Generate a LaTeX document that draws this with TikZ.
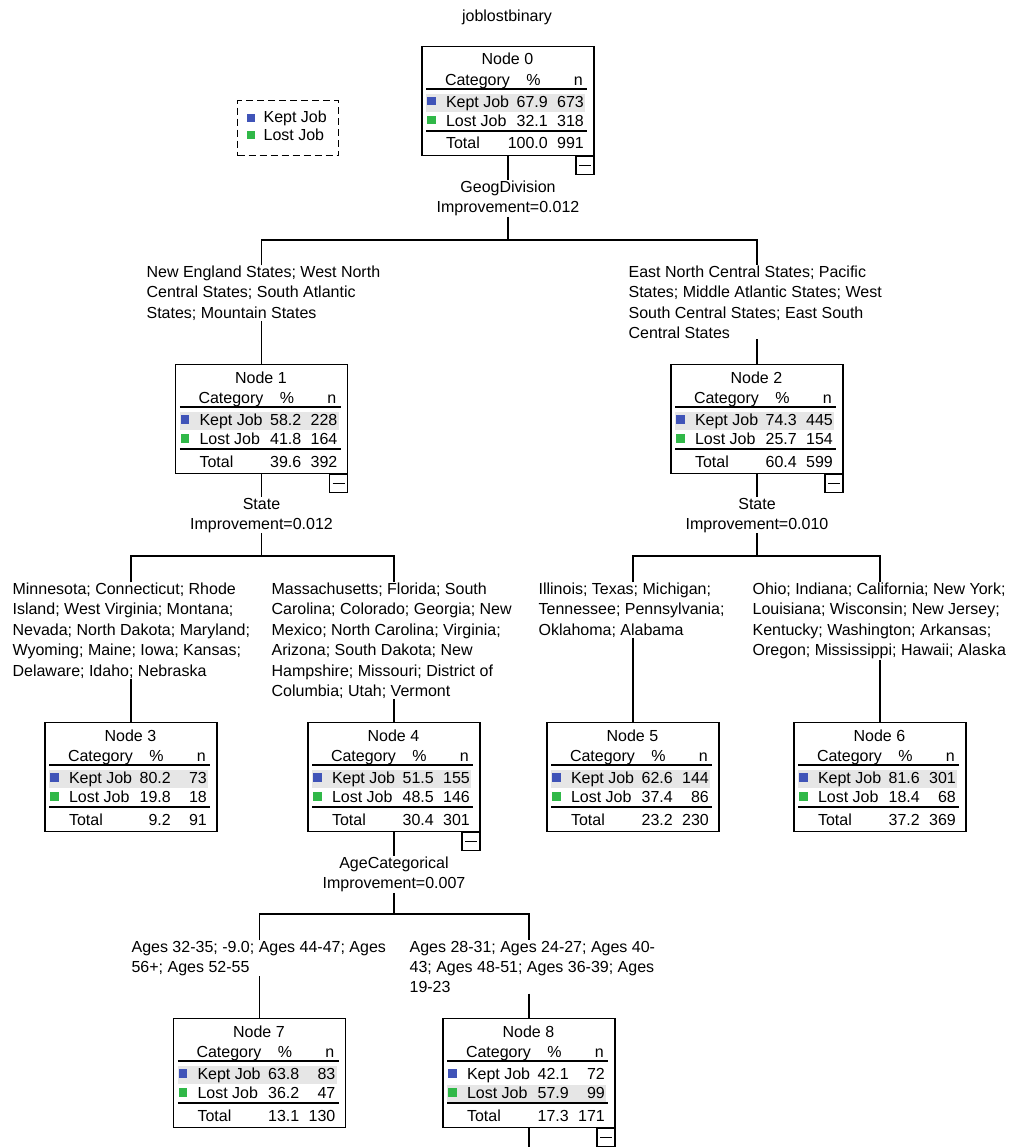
\documentclass[tikz,border=0pt]{standalone}
\usepackage{fontspec}
\setmainfont{Liberation Sans}
\usetikzlibrary{positioning}
\definecolor{keptblue}{RGB}{64,84,184}
\definecolor{lostgreen}{RGB}{48,184,72}
\definecolor{rowgray}{RGB}{230,230,230}
\tikzstyle{txt}=[inner sep=0pt, font=\fontsize{16}{20.4}\selectfont]
\tikzstyle{box}=[draw=black, minimum width=172pt, minimum height=109pt, inner sep=0pt, anchor=north]
\tikzstyle{minus}=[draw=black, minimum size=18pt, inner sep=0pt, anchor=north east]
\tikzstyle{lab}=[txt, align=left, anchor=north west]
\tikzstyle{split}=[txt, align=center, anchor=north]

\begin{document}
\begin{tikzpicture}[x=1pt, y=-1pt, line width=1.2pt]
        \useasboundingbox (0,0) rectangle (1011,1147);

        % Title
        \node[txt, anchor=base] (title) at (507,21.5) {joblostbinary};

        % Legend
        \node[draw, dash pattern=on 7pt off 4pt, minimum width=101pt, minimum height=55pt, anchor=north west] (legend) at (237,100) {};
        \fill[keptblue] (247,114) rectangle (255,122);
        \fill[lostgreen] (247,131) rectangle (255,139);
        \node[txt, anchor=base west] (leg_kept) at (263,123) {Kept Job};
        \node[txt, anchor=base west] (leg_lost) at (263,140.5) {Lost Job};

        % Tree nodes
        \foreach \nm/\px/\py/\kp/\kn/\lsp/\lsn/\tp/\tn/\hrow in {
            0/508/46/67.9/673/32.1/318/100.0/991/1,
            1/261.5/364/58.2/228/41.8/164/39.6/392/1,
            2/757/364/74.3/445/25.7/154/60.4/599/1,
            3/131/722/80.2/73/19.8/18/9.2/91/1,
            4/394/722/51.5/155/48.5/146/30.4/301/1,
            5/633/722/62.6/144/37.4/86/23.2/230/1,
            6/880/722/81.6/301/18.4/68/37.2/369/1,
            7/259.5/1018/63.8/83/36.2/47/13.1/130/1,
            8/529/1018/42.1/72/57.9/99/17.3/171/2}{
          \node[box] (n\nm) at (\px,\py) {};
          \begin{scope}[shift={(n\nm.north west)}]
            \pgfmathsetmacro\bandy{48+19*(\hrow-1)}
            \fill[rowgray] (5,\bandy) rectangle (164,\bandy+18);
            \fill[keptblue] (6,51) rectangle (14.5,59.5);
            \fill[lostgreen] (6,70) rectangle (14.5,78.5);
            \draw (5,43) -- (166,43);
            \draw (5,85) -- (166,85);
            \node[txt, anchor=base] (t\nm) at (86,19) {Node \nm};
            \node[txt, anchor=base west] (hc\nm) at (23,39.5) {Category};
            \node[txt, anchor=base] (hp\nm) at (112,39.5) {\%};
            \node[txt, anchor=base east] (hn\nm) at (162,39.5) {n};
            \node[txt, anchor=base west] (kc\nm) at (24,61.5) {Kept Job};
            \node[txt, anchor=base east] (kp\nm) at (127,61.5) {\kp};
            \node[txt, anchor=base east] (kn\nm) at (163,61.5) {\kn};
            \node[txt, anchor=base west] (lc\nm) at (24,80.5) {Lost Job};
            \node[txt, anchor=base east] (lp\nm) at (127,80.5) {\lsp};
            \node[txt, anchor=base east] (ln\nm) at (163,80.5) {\lsn};
            \node[txt, anchor=base west] (tc\nm) at (24,103) {Total};
            \node[txt, anchor=base east] (tp\nm) at (127,103) {\tp};
            \node[txt, anchor=base east] (tn\nm) at (163,103) {\tn};
          \end{scope}
        }

        % Collapse boxes
        \foreach \nm in {0,1,2,4,8}
          \node[minus] (m\nm) at (n\nm.south east) {\rule{12pt}{1.2pt}};

        % Split variables
        \node[split] (s0) at (508,180.3) {GeogDivision\\Improvement=0.012};
        \node[split] (s1) at (261.5,497.3) {State\\Improvement=0.012};
        \node[split] (s2) at (757,497.3) {State\\Improvement=0.010};
        \node[split] (s4) at (394,856.3) {AgeCategorical\\Improvement=0.007};

        \coordinate (b0) at (508,240);
        \coordinate (b1) at (261.5,556);
        \coordinate (b2) at (757,556);
        \coordinate (b4) at (394,914);

        % Branch labels
        \node[lab] (l1) at (146,265.3) {New England States; West North\\Central States; South Atlantic\\States; Mountain States};
        \node[lab] (l2) at (628,265.3) {East North Central States; Pacific\\States; Middle Atlantic States; West\\South Central States; East South\\Central States};
        \node[lab] (l3) at (12,582.3) {Minnesota; Connecticut; Rhode\\Island; West Virginia; Montana;\\Nevada; North Dakota; Maryland;\\Wyoming; Maine; Iowa; Kansas;\\Delaware; Idaho; Nebraska};
        \node[lab] (l4) at (271,582.3) {Massachusetts; Florida; South\\Carolina; Colorado; Georgia; New\\Mexico; North Carolina; Virginia;\\Arizona; South Dakota; New\\Hampshire; Missouri; District of\\Columbia; Utah; Vermont};
        \node[lab] (l5) at (538,582.3) {Illinois; Texas; Michigan;\\Tennessee; Pennsylvania;\\Oklahoma; Alabama};
        \node[lab] (l6) at (752,582.3) {Ohio; Indiana; California; New York;\\Louisiana; Wisconsin; New Jersey;\\Kentucky; Washington; Arkansas;\\Oregon; Mississippi; Hawaii; Alaska};
        \node[lab] (l7) at (131,940.3) {Ages 32-35; -9.0; Ages 44-47; Ages\\56+; Ages 52-55};
        \node[lab] (l8) at (409,940.3) {Ages 28-31; Ages 24-27; Ages 40-\\43; Ages 48-51; Ages 36-39; Ages\\19-23};

        % Connectors
        \foreach \p/\lft/\rgt in {0/1/2, 1/3/4, 2/5/6, 4/7/8}{
          \draw (n\p.south) -- (s\p.north);
          \draw (s\p.south) -- (b\p);
          \draw (n\lft |- l\lft.north) -- (b\p -| n\lft) -- (b\p -| n\rgt) -- (n\rgt |- l\rgt.north);
          \draw (n\lft |- l\lft.south) -- (n\lft.north);
          \draw (n\rgt |- l\rgt.south) -- (n\rgt.north);
        }

        \coordinate (end8) at (529,1147);
        \draw (n8.south) -- (end8);
      \end{tikzpicture}
\end{document}
